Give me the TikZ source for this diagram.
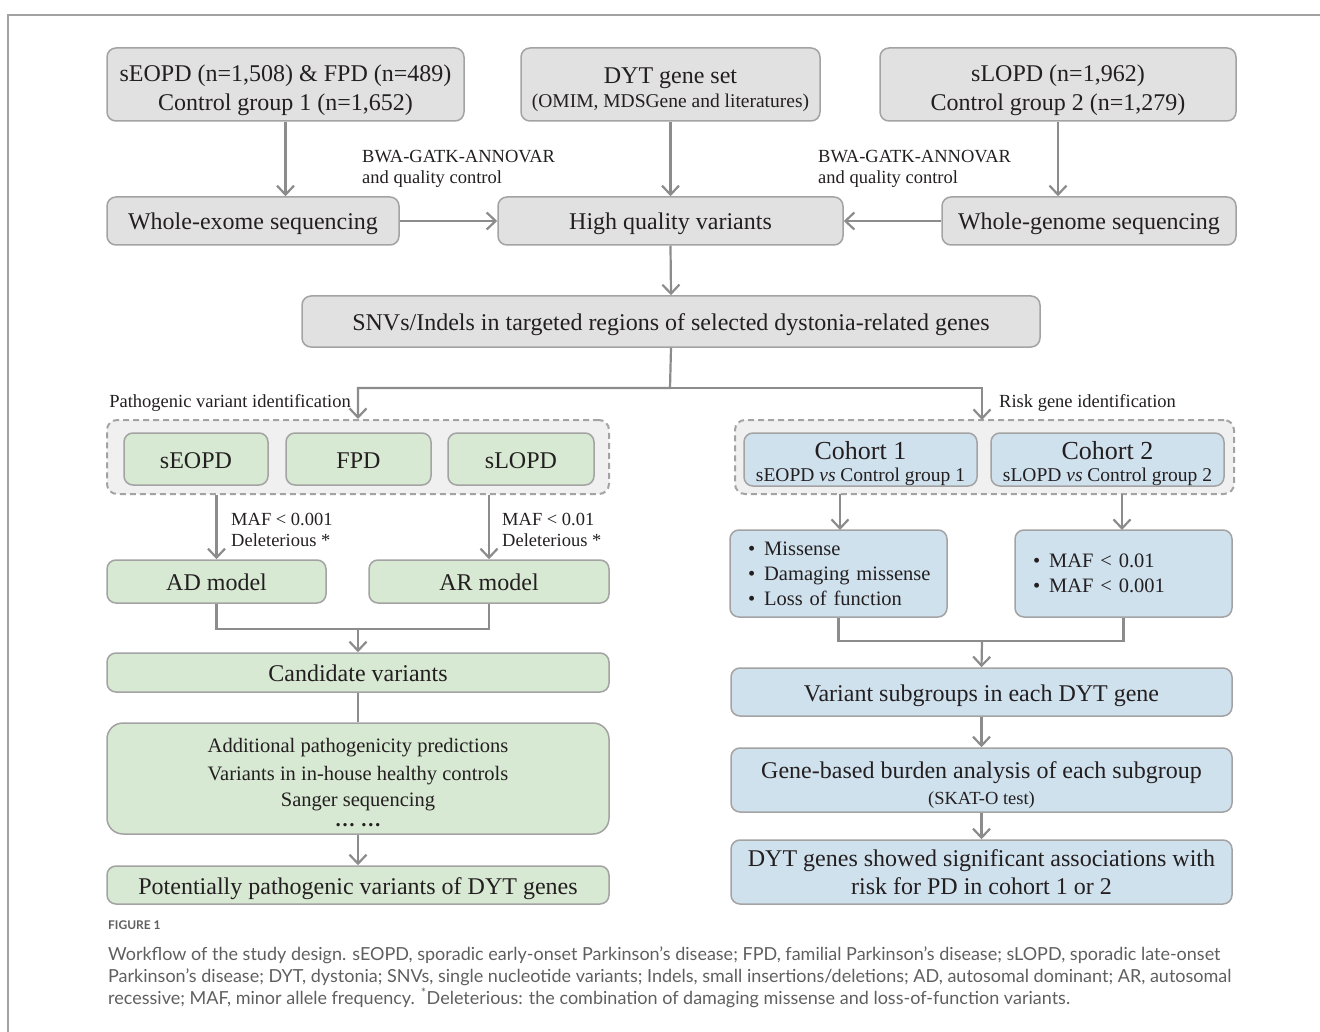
\documentclass[tikz,border=0pt]{standalone}
\usepackage{fontspec}
\setmainfont{Liberation Serif}
\newfontfamily\capfont{Lato}
\usepackage{tikz}
\usetikzlibrary{positioning, arrows.meta, calc}
\definecolor{boxgray}{HTML}{E1E1E1}
\definecolor{boxgreen}{HTML}{D7E8D3}
\definecolor{boxblue}{HTML}{D0E1EE}
\definecolor{groupfill}{HTML}{F0F0F0}
\definecolor{edgegray}{HTML}{A3A3A3}
\definecolor{arrowgray}{HTML}{8C8C8C}
\definecolor{inkc}{HTML}{231F20}
\definecolor{capgray}{HTML}{5F5F5F}
\tikzstyle{base}=[%
      rectangle, rounded corners=9pt, draw=edgegray, line width=1.5pt,
      inner sep=0pt, align=center, text=inkc, font=\fontsize{24}{28}\selectfont
]
\tikzstyle{greybox}=[base, fill=boxgray]
\tikzstyle{greenbox}=[base, fill=boxgreen]
\tikzstyle{bluebox}=[base, fill=boxblue]
\tikzstyle{oneline}=[text height=21pt, text depth=3pt]
\tikzstyle{listbox}=[bluebox, minimum width=217pt, minimum height=87pt, align=left,
      text width=199pt, inner xsep=9pt, font=\fontsize{20.5}{25}\selectfont
]
\tikzstyle{groupbox}=[%
      rectangle, rounded corners=10pt, draw=edgegray, fill=groupfill, line width=2pt,
      dash pattern=on 6pt off 4pt, inner sep=0pt
]
\tikzstyle{note}=[text=inkc, align=left, inner sep=0pt, font=\fontsize{18.5}{21}\selectfont]
\tikzstyle{captext}=[anchor=base west, inner sep=0pt, text=capgray, font=\capfont\fontsize{18}{22}\selectfont]
\tikzstyle{arr}=[->, draw=arrowgray, line width=2.2pt]
\tikzstyle{conn}=[draw=arrowgray, line width=2.2pt]
\newcommand{\bulletitem}[1]{\hspace*{9pt}\textbullet\hspace{9pt}\mbox{#1}}

\begin{document}
\begin{tikzpicture}[x=1pt, y=-1pt,
    >={Straight Barb[length=9pt, width=17pt]}
  ]
    \useasboundingbox (0,0) rectangle (1320,1032);
    % frame
    \draw[edgegray, line width=1.5pt] (8,1032) -- (8,15) -- (1320,15);

    % input row
    \node[greybox, minimum width=357pt, minimum height=73pt] (early) at (285.5,84.5)
        {\rule{0pt}{28pt}sEOPD (n=1,508) \& FPD (n=489)\\[1pt]Control group 1 (n=1,652)};
    \node[greybox, minimum width=299pt, minimum height=73pt] (dytset) at (670.5,84.5)
        {\rule{0pt}{26pt}DYT gene set\\[-4pt]{\fontsize{19.5}{21}\selectfont (OMIM, MDSGene and literatures)}};
    \node[greybox, minimum width=356pt, minimum height=73pt] (late) at (1058,84.5)
        {\rule{0pt}{28pt}sLOPD (n=1,962)\\[1pt]Control group 2 (n=1,279)};

    \node[greybox, oneline, minimum width=292pt, minimum height=48pt] (wes) at (253,221) {Whole-exome sequencing};
    \node[greybox, oneline, minimum width=345pt, minimum height=48pt] (hqv) at (670.5,221) {High quality variants};
    \node[greybox, oneline, minimum width=294pt, minimum height=48pt] (wgs) at (1089,221) {Whole-genome sequencing};

    \node[note, anchor=west] (bwa1) at (362,169) {BWA-GATK-ANNOVAR\\and quality control};
    \node[note, anchor=west] (bwa2) at (818,169) {BWA-GATK-ANNOVAR\\and quality control};

    \node[greybox, oneline, minimum width=738pt, minimum height=51pt] (snv) at (671,321.5)
        {SNVs/Indels in targeted regions of selected dystonia-related genes};

    \draw[arr] (early.south) -- (early.south |- wes.north);
    \draw[arr] (dytset.south) -- (hqv.north);
    \draw[arr] (late.south) -- (late.south |- wgs.north);
    \draw[arr] (wes.east) -- (hqv.west);
    \draw[arr] (wgs.west) -- (hqv.east);
    \draw[arr] (hqv.south) -- (snv.north);

    % pathogenic variant branch
    \node[groupbox, minimum width=502pt, minimum height=74pt] (pvgroup) at (358,457) {};
    \node[greenbox, oneline, minimum width=144pt, minimum height=52pt] (pseopd) at (196,459) {sEOPD};
    \node[greenbox, oneline, minimum width=145pt, minimum height=52pt] (pfpd) at (358.5,459) {FPD};
    \node[greenbox, oneline, minimum width=146pt, minimum height=52pt] (pslopd) at (521,459) {sLOPD};
    \node[note, anchor=east] (pvlabel) at (351,403) {Pathogenic variant identification};

    \node[greenbox, oneline, minimum width=219pt, minimum height=43pt] (ad) at (216.5,581.5) {AD model};
    \node[greenbox, oneline, minimum width=240pt, minimum height=43pt] (ar) at (489,581.5) {AR model};
    \node[note, anchor=west] (admaf) at (231,530) {MAF < 0.001\\Deleterious *};
    \node[note, anchor=west] (armaf) at (502,530) {MAF < 0.01\\Deleterious *};

    \node[greenbox, oneline, minimum width=502pt, minimum height=39pt] (cand) at (358,672.5) {Candidate variants};
    \node[greenbox, rounded corners=16pt, minimum width=502pt, minimum height=111pt,
          font=\fontsize{20.5}{28}\selectfont] (extra) at (358,778.5)
        {\rule{0pt}{22pt}Additional pathogenicity predictions\\Variants in in-house healthy controls\\[-2pt]Sanger sequencing\\[-8pt]\textbf{\dots\ \dots}};
    \node[greenbox, oneline, minimum width=502pt, minimum height=38pt] (pot) at (358,885)
        {Potentially pathogenic variants of DYT genes};

    % risk gene branch
    \node[groupbox, minimum width=499pt, minimum height=74pt] (rggroup) at (984.5,457) {};
    \node[bluebox, minimum width=233pt, minimum height=53pt] (coh1) at (860.5,459.5)
        {\rule{0pt}{26pt}{\fontsize{26}{28}\selectfont Cohort 1}\\[-6pt]{\fontsize{19.5}{21}\selectfont sEOPD \textit{vs} Control group 1}};
    \node[bluebox, minimum width=233pt, minimum height=53pt] (coh2) at (1107.5,459.5)
        {\rule{0pt}{26pt}{\fontsize{26}{28}\selectfont Cohort 2}\\[-6pt]{\fontsize{19.5}{21}\selectfont sLOPD \textit{vs} Control group 2}};
    \node[note, anchor=west] (rglabel) at (999,403) {Risk gene identification};

    \node[listbox] (vtype) at (838.5,573.5)
        {\bulletitem{Missense}\\\bulletitem{Damaging missense}\\\bulletitem{Loss of function}};
    \node[listbox] (vmaf) at (1123.5,573.5)
        {\bulletitem{MAF < 0.01}\\\bulletitem{MAF < 0.001}};

    \node[bluebox, oneline, minimum width=501pt, minimum height=48pt] (subg) at (981.5,692)
        {Variant subgroups in each DYT gene};
    \node[bluebox, minimum width=501pt, minimum height=64pt] (burden) at (981.5,780)
        {\rule{0pt}{26pt}Gene-based burden analysis of each subgroup\\[-2pt]{\fontsize{18.5}{20}\selectfont (SKAT-O test)}};
    \node[bluebox, minimum width=501pt, minimum height=64pt] (sig) at (981.5,872)
        {DYT genes showed significant associations with\\risk for PD in cohort 1 or 2};

    % connectors
    \coordinate (fork) at (670,388);
    \draw[arr] (snv.south) -- (fork) -| (pvgroup.north);
    \draw[arr] (fork) -| (982,420);

    \draw[arr] (ad.north |- pvgroup.south) -- (ad.north);
    \draw[arr] (ar.north |- pvgroup.south) -- (ar.north);
    \coordinate (admerge) at (358,629);
    \draw[conn] (ad.south) |- (admerge) -| (ar.south);
    \draw[arr] (admerge) -- (cand.north);
    \draw[conn] (cand.south) -- (extra.north);
    \draw[arr] (extra.south) -- (pot.north);

    \draw[arr] (840,494) -- (840,530);
    \draw[arr] (1122,494) -- (1122,530);
    \coordinate (rgmerge) at (982,641);
    \draw[conn] (vtype.south) |- (rgmerge) -| (vmaf.south);
    \draw[arr] (rgmerge) -- (subg.north);
    \draw[arr] (subg.south) -- (burden.north);
    \draw[arr] (burden.south) -- (sig.north);

    % caption
    \node[anchor=west, inner sep=0pt, text=capgray, font=\capfont\bfseries\fontsize{12}{14}\selectfont]
        (figlabel) at (108,925) {FIGURE 1};
    \node[captext] (cap1) at (108,960)
        {Workflow of the study design. sEOPD, sporadic early-onset Parkinson’s disease; FPD, familial Parkinson’s disease; sLOPD, sporadic late-onset};
    \node[captext] (cap2) at (108,982)
        {Parkinson’s disease; DYT, dystonia; SNVs, single nucleotide variants; Indels, small insertions/deletions; AD, autosomal dominant; AR, autosomal};
    \node[captext] (cap3) at (108,1004)
        {recessive; MAF, minor allele frequency. \textsuperscript{*}Deleterious: the combination of damaging missense and loss-of-function variants.};
\end{tikzpicture}
\end{document}
